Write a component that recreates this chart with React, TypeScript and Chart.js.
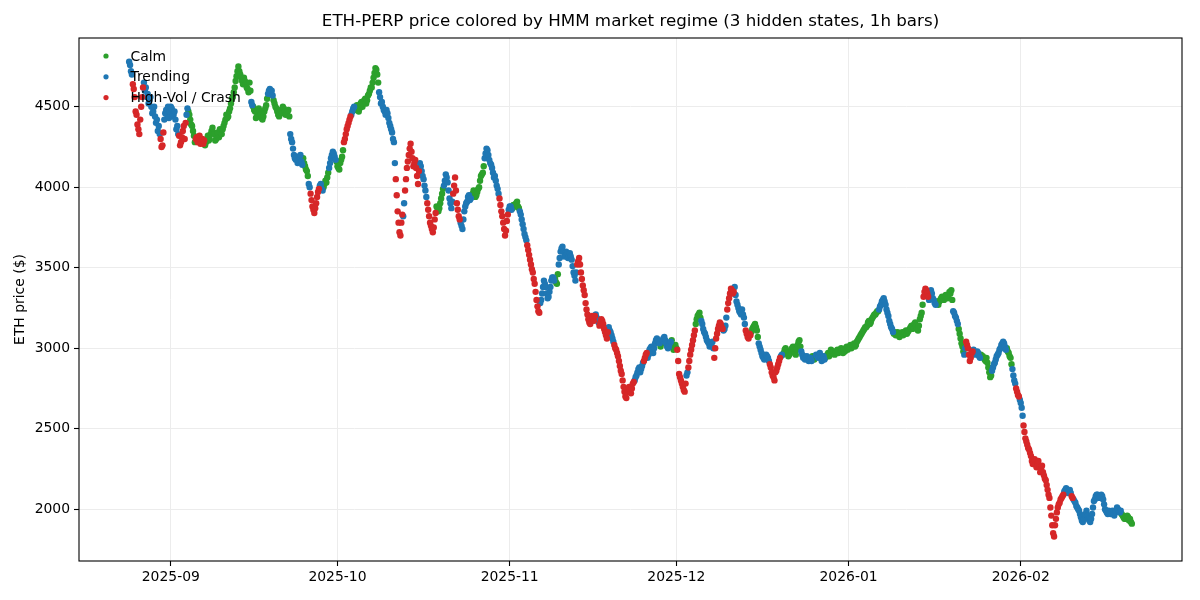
import React, { useEffect, useRef } from "react";
import { Chart, registerables } from "chart.js";

Chart.register(...registerables);

// ---- data: a sample every 8 h, plus a mid-period reading 4 h later ----
const START_UTC = Date.UTC(2025, 7, 24, 12);
const STEP_HOURS = 8;
const MID_OFFSET_HOURS = 4;

const PRICE_1 = [
  4780, 4720, 4640, 4560, 4450, 4360, 4420, 4560, 4650, 4620,
  4580, 4540, 4500, 4470, 4440, 4420, 4380, 4300, 4260, 4420,
  4480, 4500, 4470, 4490, 4450, 4420, 4380, 4320, 4280, 4350,
  4300, 4450, 4470, 4420, 4380, 4320, 4300, 4280, 4320, 4290,
  4270, 4260, 4300, 4290, 4330, 4370, 4330, 4300, 4340, 4360,
  4330, 4380, 4420, 4430, 4470, 4520, 4560, 4620, 4690, 4750,
  4700, 4660, 4680, 4640, 4610, 4650, 4530, 4500, 4470, 4440,
  4490, 4450, 4420, 4470, 4510, 4580, 4610, 4600, 4540, 4500,
  4470, 4440, 4480, 4500, 4470, 4460, 4480, 4330, 4280, 4200,
];
const MID_1 = [
  4760, 4700, 4610, 4470, 4390, 4330, 4500, 4620, 4600, 4560,
  4520, 4560, 4460, 4500, 4400, 4350, 4330, 4250, 4340, 4460,
  4450, 4430, 4500, 4440, 4470, 4360, 4330, 4260, 4310, 4380,
  4400, 4490, 4450, 4390, 4350, 4280, 4310, 4300, 4270, 4300,
  4290, 4280, 4320, 4300, 4350, 4340, 4290, 4320, 4310, 4340,
  4360, 4400, 4450, 4440, 4490, 4550, 4590, 4660, 4720, 4720,
  4680, 4640, 4660, 4620, 4590, 4600, 4510, 4480, 4430, 4470,
  4470, 4430, 4440, 4490, 4550, 4600, 4580, 4570, 4520, 4490,
  4450, 4460, 4460, 4490, 4450, 4470, 4440, 4300, 4240, 4180,
];
const REGIME_1 =
  "TTHHHHHHTT" + "TTTTTTTHHT" + "TTTTTTTHHH" + "HTCCCCHHHH" + "HCCCCCCCCC" +
  "CCCCCCCCCC" + "CCCCCCTCCC" + "CCCCCTTTCC" + "CCCCCCCTTT";

const PRICE_2 = [
  4170, 4150, 4190, 4160, 4180, 4130, 4100, 4020, 3960, 3880,
  3840, 3900, 3970, 4010, 3990, 4000, 4040, 4060, 4120, 4180,
  4220, 4190, 4160, 4120, 4150, 4190, 4280, 4330, 4380, 4420,
  4450, 4490, 4480, 4510, 4470, 4520, 4500, 4540, 4520, 4570,
  4600, 4620, 4680, 4740, 4700, 4590, 4520, 4500, 4470, 4480,
  4430, 4380, 4340, 4280, 4050, 3850, 3720, 3780, 3820, 3980,
  4120, 4200, 4270, 4180, 4150, 4120, 4020, 4150, 4100, 4050,
  3980, 3900, 3820, 3760, 3720, 3800, 3880, 3850, 3900, 3960,
  4010, 4080, 4030, 3930, 3870, 3960, 4060, 3900, 3820, 3780,
];
const MID_2 = [
  4190, 4170, 4200, 4140, 4150, 4110, 4070, 4000, 3920, 3860,
  3870, 3940, 3990, 4020, 3980, 4020, 4030, 4090, 4150, 4200,
  4210, 4170, 4130, 4110, 4170, 4230, 4300, 4360, 4400, 4440,
  4470, 4500, 4490, 4490, 4490, 4530, 4520, 4550, 4540, 4580,
  4620, 4650, 4710, 4730, 4650, 4560, 4530, 4480, 4450, 4460,
  4400, 4360, 4300, 4150, 3950, 3780, 3700, 3830, 3900, 4050,
  4160, 4240, 4220, 4130, 4170, 4070, 4100, 4130, 4070, 4010,
  3940, 3860, 3780, 3740, 3750, 3840, 3870, 3870, 3930, 3990,
  4040, 4060, 3980, 3900, 3910, 4010, 3980, 3860, 3800, 3760,
];
const REGIME_2 =
  "TTTTCCCTHH" + "HHHTTCCCTT" + "TTCCCCHHHH" + "TTCCCCCCCC" + "CCCCCTTTTT" +
  "TTTTHHHHTH" + "HHHHHHHTTT" + "THHHHHCCCC" + "TTTTTHHHHT";

const PRICE_3 = [
  3740, 3850, 3900, 3940, 3920, 3950, 3980, 3940, 3970, 4000,
  4070, 4090, 4180, 4240, 4200, 4150, 4120, 4060, 4040, 3990,
  3930, 3850, 3780, 3700, 3790, 3860, 3880, 3870, 3890, 3900,
  3880, 3850, 3800, 3740, 3690, 3640, 3580, 3520, 3470, 3400,
  3300, 3230, 3280, 3340, 3420, 3380, 3310, 3350, 3420, 3440,
  3430, 3400, 3520, 3600, 3630, 3570, 3600, 3560, 3590, 3550,
  3470, 3420, 3520, 3560, 3470, 3390, 3330, 3240, 3180, 3150,
  3200, 3170, 3210, 3180, 3140, 3180, 3150, 3100, 3060, 3130,
  3100, 3060, 3020, 2990, 2950, 2890, 2840, 2760, 2700, 2730,
];
const MID_3 = [
  3800, 3880, 3910, 3950, 3930, 3960, 3960, 3950, 3990, 4040,
  4080, 4130, 4210, 4230, 4170, 4140, 4090, 4070, 4010, 3960,
  3890, 3820, 3740, 3730, 3830, 3880, 3860, 3890, 3880, 3910,
  3870, 3830, 3770, 3710, 3670, 3610, 3550, 3490, 3430, 3350,
  3260, 3220, 3300, 3380, 3400, 3340, 3320, 3380, 3440, 3420,
  3410, 3460, 3560, 3620, 3600, 3580, 3590, 3570, 3570, 3510,
  3450, 3470, 3540, 3520, 3430, 3360, 3280, 3210, 3160, 3170,
  3190, 3200, 3190, 3160, 3160, 3170, 3120, 3080, 3100, 3110,
  3080, 3040, 3000, 2970, 2920, 2860, 2800, 2730, 2690, 2740,
];
const REGIME_3 =
  "TTTTTCCCCC" + "CCTTTTTTTT" + "HHHHHTTCCC" + "CTTTTHHHHH" + "HHTTTTTTTT" +
  "CCTTTTTTTT" + "TTHHHHHHHH" + "HHTTHHHHHT" + "TTHHHHHHHH";

const PRICE_4 = [
  2760, 2720, 2780, 2800, 2830, 2870, 2850, 2890, 2920, 2960,
  2940, 2990, 3010, 2970, 3030, 3060, 3040, 3010, 3050, 3070,
  3030, 3000, 3030, 3050, 2990, 3020, 2990, 2840, 2800, 2760,
  2730, 2830, 2880, 2960, 3020, 3080, 3150, 3200, 3220, 3170,
  3120, 3090, 3050, 3030, 3020, 3040, 2940, 3060, 3120, 3160,
  3130, 3110, 3140, 3240, 3310, 3370, 3340, 3380, 3290, 3250,
  3220, 3240, 3190, 3110, 3070, 3090, 3100, 3130, 3150, 3110,
  3030, 2990, 2950, 2930, 2960, 2940, 2900, 2850, 2820, 2850,
  2880, 2920, 2950, 2960, 2990, 2980, 2950, 2970, 3000, 2980,
];
const MID_4 = [
  2740, 2750, 2790, 2820, 2850, 2880, 2870, 2910, 2940, 2970,
  2960, 3000, 2990, 3000, 3050, 3050, 3030, 3030, 3060, 3050,
  3010, 3010, 3040, 3020, 3000, 3000, 2920, 2820, 2780, 2740,
  2780, 2850, 2920, 2990, 3050, 3110, 3180, 3210, 3190, 3150,
  3100, 3070, 3040, 3010, 3030, 3000, 3000, 3090, 3140, 3150,
  3120, 3120, 3190, 3280, 3340, 3360, 3350, 3330, 3270, 3230,
  3210, 3210, 3150, 3090, 3060, 3080, 3120, 3140, 3130, 3070,
  3010, 2970, 2940, 2940, 2950, 2920, 2880, 2830, 2800, 2860,
  2900, 2940, 2960, 2970, 3000, 2970, 2960, 2990, 3010, 2970,
];
const REGIME_4 =
  "HHHTTTTTHH" + "TTTTTTTCTT" + "TTTCCCHHHH" + "HTHHHHCCCT" + "TTTTTTHHHH" +
  "HTTHHHHTTT" + "TTTHHHCCCC" + "TTTTTTHHHH" + "HHTCCCCCCC";

const PRICE_5 = [
  2960, 3020, 3050, 2980, 2940, 2930, 2950, 2920, 2940, 2950,
  2930, 2960, 2940, 2970, 2920, 2950, 2940, 2960, 2950, 2990,
  2970, 2960, 2980, 2970, 2990, 2980, 2990, 3000, 2990, 3010,
  3000, 3020, 3010, 3040, 3060, 3080, 3100, 3120, 3130, 3160,
  3150, 3180, 3200, 3210, 3230, 3240, 3270, 3300, 3290, 3240,
  3200, 3150, 3120, 3090, 3080, 3100, 3070, 3090, 3080, 3100,
  3090, 3110, 3130, 3120, 3150, 3140, 3110, 3180, 3220, 3320,
  3370, 3340, 3300, 3360, 3310, 3280, 3290, 3270, 3300, 3320,
  3300, 3330, 3310, 3350, 3360, 3230, 3200, 3170, 3120, 3060,
];
const MID_5 = [
  2990, 3040, 3010, 2960, 2950, 2940, 2930, 2930, 2920, 2940,
  2950, 2950, 2950, 2940, 2930, 2930, 2950, 2970, 2970, 2980,
  2980, 2970, 2990, 2980, 3000, 2970, 2980, 3010, 3000, 3020,
  3010, 3030, 3020, 3050, 3070, 3090, 3110, 3130, 3140, 3170,
  3160, 3190, 3210, 3220, 3230, 3260, 3290, 3310, 3270, 3220,
  3170, 3130, 3100, 3100, 3090, 3080, 3080, 3100, 3090, 3110,
  3100, 3120, 3140, 3130, 3160, 3120, 3140, 3200, 3270, 3350,
  3360, 3320, 3330, 3340, 3300, 3270, 3280, 3290, 3310, 3310,
  3320, 3320, 3330, 3340, 3300, 3220, 3190, 3150, 3090, 3030,
];
const REGIME_5 =
  "CCCTTTTTTC" + "CTTTTTCCCC" + "CCCCCCCCCC" + "CCCCCCCCCC" + "CCCCCTTTTT" +
  "TTTCCCCCCC" + "CCCCCCCCCH" + "HHTTTTCCCC" + "CCCCCTTTCC";

const PRICE_6 = [
  3010, 2960, 3040, 3000, 2920, 2970, 2990, 2960, 2980, 2950,
  2960, 2950, 2930, 2940, 2880, 2820, 2860, 2900, 2930, 2960,
  2990, 3020, 3040, 3010, 3000, 2970, 2940, 2870, 2800, 2750,
  2710, 2680, 2630, 2520, 2440, 2400, 2370, 2330, 2280, 2310,
  2260, 2300, 2230, 2270, 2210, 2180, 2120, 2070, 1960, 1850,
  1900, 1980, 2030, 2060, 2080, 2110, 2130, 2100, 2120, 2080,
  2060, 2040, 2010, 1990, 1950, 1920, 1960, 1990, 1940, 1920,
  1970, 2050, 2080, 2090, 2070, 2090, 2060, 2000, 1980, 1990,
  1970, 1990, 1960, 1990, 2000, 1980, 1970, 1950, 1940, 1960,
  1930, 1920,
];
const MID_6 = [
  2980, 3000, 3020, 2960, 2940, 2980, 2970, 2970, 2970, 2940,
  2950, 2940, 2920, 2910, 2850, 2830, 2880, 2910, 2950, 2970,
  3000, 3030, 3030, 2990, 2980, 2950, 2900, 2830, 2780, 2730,
  2700, 2660, 2580, 2480, 2420, 2380, 2350, 2300, 2290, 2280,
  2280, 2260, 2250, 2230, 2190, 2150, 2090, 2010, 1900, 1830,
  1940, 2010, 2040, 2070, 2090, 2120, 2120, 2110, 2100, 2070,
  2050, 2020, 2000, 1970, 1930, 1940, 1970, 1960, 1930, 1940,
  2010, 2060, 2090, 2080, 2080, 2080, 2030, 1990, 1970, 1980,
  1980, 1970, 1980, 2010, 1990, 1990, 1960, 1940, 1950, 1950,
  1940, 1910,
];
const REGIME_6 =
  "CTHHHHTTTT" + "CCCCCCTTTT" + "TTTTCCCTTH" + "HTTHHHHHHH" + "HHHHHHHHHH" +
  "HHHHHTTTTH" + "TTTTTTTTTT" + "TTTTTTTTTT" + "TTTTTTCCCC" + "CC";

const REGIME_CODES = ["C", "T", "H"];
const REGIME_NAMES = ["Calm", "Trending", "High-Vol / Crash"];
const REGIME_COLORS = ["#2ca02c", "#1f77b4", "#d62728"];

const Y_TICKS = [2000, 2500, 3000, 3500, 4000, 4500];
const X_TICK_MONTHS = ["2025-09", "2025-10", "2025-11", "2025-12", "2026-01", "2026-02"];
const TITLE = "ETH-PERP price colored by HMM market regime (3 hidden states, 1h bars)";
const Y_LABEL = "ETH price ($)";
const Y_MIN = 1678;
const Y_MAX = 4927;

const FONT = "'DejaVu Sans', 'Liberation Sans', sans-serif";

function monthToMs(m: string): number {
  const [y, mo] = m.split("-").map(Number);
  return Date.UTC(y, mo - 1, 1);
}

function fmtMonth(v: number): string {
  const d = new Date(v);
  const mm = String(d.getUTCMonth() + 1).padStart(2, "0");
  return `${d.getUTCFullYear()}-${mm}`;
}

export default function App() {
  const ref = useRef<HTMLCanvasElement | null>(null);

  useEffect(() => {
    const canvas = ref.current;
    if (!canvas) return;

    const prices = [...PRICE_1, ...PRICE_2, ...PRICE_3, ...PRICE_4, ...PRICE_5, ...PRICE_6];
    const mids = [...MID_1, ...MID_2, ...MID_3, ...MID_4, ...MID_5, ...MID_6];
    const regimes = REGIME_1 + REGIME_2 + REGIME_3 + REGIME_4 + REGIME_5 + REGIME_6;
    const stepMs = STEP_HOURS * 3600 * 1000;
    const midMs = MID_OFFSET_HOURS * 3600 * 1000;
    const groups: { x: number; y: number }[][] = [[], [], []];
    let tEnd = START_UTC;
    prices.forEach((p, i) => {
      const gi = REGIME_CODES.indexOf(regimes[i] || "T");
      const g = groups[gi < 0 ? 1 : gi];
      const t = START_UTC + i * stepMs;
      g.push({ x: t, y: p });
      if (mids[i] !== undefined) {
        g.push({ x: t + midMs, y: mids[i] });
        tEnd = Math.max(tEnd, t + midMs);
      }
      tEnd = Math.max(tEnd, t);
    });
    const margin = (tEnd - START_UTC) * 0.05;
    const xTicks = X_TICK_MONTHS.map(monthToMs);

    const overlay = {
      id: "mplOverlay",
      afterDraw(chart: any) {
        const { ctx, chartArea } = chart;
        const { left, right, top, bottom } = chartArea;
        ctx.save();
        ctx.strokeStyle = "#000";
        ctx.lineWidth = 1.1;
        ctx.strokeRect(left, top, right - left, bottom - top);
        ctx.fillStyle = "#000";
        ctx.font = `16.7px ${FONT}`;
        ctx.textAlign = "center";
        ctx.textBaseline = "middle";
        ctx.fillText(TITLE, (left + right) / 2, 22);
        ctx.font = `13.9px ${FONT}`;
        ctx.textAlign = "left";
        REGIME_NAMES.forEach((name, k) => {
          const cy = 56 + k * 20.8;
          ctx.beginPath();
          ctx.fillStyle = REGIME_COLORS[k];
          ctx.arc(106, cy, 2.6, 0, Math.PI * 2);
          ctx.fill();
          ctx.fillStyle = "#000";
          ctx.fillText(name, 130.5, cy + 1);
        });
        ctx.restore();
      },
    };

    const chart = new Chart(canvas, {
      type: "scatter",
      data: {
        datasets: REGIME_NAMES.map((name, k) => ({
          label: name,
          data: groups[k],
          backgroundColor: REGIME_COLORS[k],
          borderWidth: 0,
          pointRadius: 3.2,
          pointHoverRadius: 3.2,
          order: 3 - k,
        })),
      },
      options: {
        responsive: false,
        animation: false,
        events: [],
        layout: { padding: { top: 38, right: 18, left: 0, bottom: 0 } },
        plugins: {
          legend: { display: false },
          title: { display: false },
          tooltip: { enabled: false },
        },
        scales: {
          x: {
            type: "linear",
            min: START_UTC - margin,
            max: tEnd + margin,
            afterFit: (s: any) => {
              s.height = 39;
            },
            afterBuildTicks: (s: any) => {
              s.ticks = xTicks.map((v) => ({ value: v }));
            },
            ticks: {
              callback: (v: any) => fmtMonth(Number(v)),
              color: "#000",
              font: { family: FONT, size: 13.9 },
              padding: 3,
              maxRotation: 0,
              autoSkip: false,
            },
            grid: {
              color: "#ececec",
              lineWidth: 1,
              drawTicks: true,
              tickLength: 5,
              tickColor: "#000",
              tickWidth: 1.1,
            },
            border: { display: false },
          },
          y: {
            type: "linear",
            min: Y_MIN,
            max: Y_MAX,
            afterFit: (s: any) => {
              s.width = 79;
            },
            afterBuildTicks: (s: any) => {
              s.ticks = Y_TICKS.map((v) => ({ value: v }));
            },
            ticks: {
              callback: (v: any) => String(v),
              color: "#000",
              font: { family: FONT, size: 13.9 },
              padding: 4,
            },
            grid: {
              color: "#ececec",
              lineWidth: 1,
              drawTicks: true,
              tickLength: 5,
              tickColor: "#000",
              tickWidth: 1.1,
            },
            border: { display: false },
            title: {
              display: true,
              text: Y_LABEL,
              color: "#000",
              font: { family: FONT, size: 13.9 },
              padding: { top: 12, bottom: 0 },
            },
          },
        },
      },
      plugins: [overlay],
    } as any);

    return () => chart.destroy();
  }, []);

  return (
    <div style={{ position: "absolute", left: 0, top: 0, width: 1200, height: 600, background: "#fff" }}>
      <canvas ref={ref} width={1200} height={600} style={{ width: 1200, height: 600, display: "block" }} />
    </div>
  );
}
